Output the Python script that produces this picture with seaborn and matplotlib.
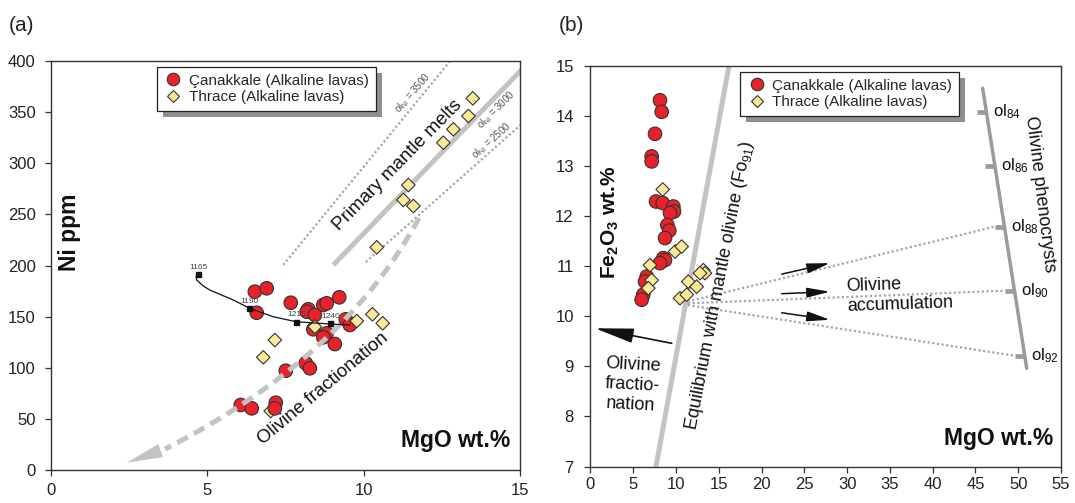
import numpy as np
import pandas as pd
import matplotlib
matplotlib.use("Agg")
import matplotlib.pyplot as plt
import seaborn as sns
from matplotlib.patches import Rectangle, PathPatch
from matplotlib.path import Path
from matplotlib.lines import Line2D
from matplotlib.transforms import IdentityTransform

# ---------------- data ----------------
CAN = "Çanakkale (Alkaline lavas)"
THR = "Thrace (Alkaline lavas)"

# panel (a): MgO vs Ni
a_can_mgo = [6.52, 6.90, 6.58, 7.67, 9.22, 8.23, 8.18, 8.71, 8.82, 8.44, 8.39, 8.82,
             8.71, 9.08, 9.43, 9.56, 7.51, 8.15, 8.28, 6.07, 6.42, 7.19, 7.16]
a_can_ni = [174.4, 177.7, 153.8, 163.6, 168.9, 157.2, 154.8, 161.4, 163.0, 151.6, 137.6, 133.7,
            129.8, 123.2, 147.4, 141.8, 97.1, 104.4, 99.5, 63.6, 60.3, 65.8, 60.3]
a_thr_mgo = [7.03, 8.44, 9.78, 10.28, 10.61, 7.16, 6.79, 13.49, 13.35, 12.87, 12.55,
             11.43, 11.27, 11.59, 10.42]
a_thr_ni = [57.7, 140.1, 145.7, 152.3, 143.5, 127.1, 110.2, 363.5, 346.2, 333.2, 320.1,
            278.7, 264.1, 258.2, 217.8]

# panel (b): MgO vs Fe2O3
b_can_mgo = [8.12, 8.32, 7.54, 7.15, 7.15, 7.66, 8.44, 9.68, 9.76, 9.29, 8.98, 9.21,
             8.71, 8.51, 8.71, 8.12, 6.57, 6.37, 6.17, 5.98]
b_can_fe = [14.31, 14.08, 13.64, 13.19, 13.09, 12.29, 12.26, 12.19, 12.09, 12.06, 11.82, 11.71,
            11.56, 11.16, 11.12, 11.06, 10.79, 10.69, 10.43, 10.33]
b_thr_mgo = [8.44, 9.88, 10.66, 6.95, 7.15, 6.76, 11.43, 12.41, 13.19, 13.38, 12.8, 10.46, 11.25]
b_thr_fe = [12.53, 11.29, 11.39, 11.02, 10.72, 10.56, 10.69, 10.59, 10.92, 10.86, 10.86, 10.36, 10.43]

# guide lines, panel (a)
prim_mgo = [9.03, 15.1]; prim_ni = [200.5, 393.0]          # ol_Ni = 3000
ol3500_mgo = [7.43, 12.9]; ol3500_ni = [200.5, 405.0]
ol2500_mgo = [10.07, 15.1]; ol2500_ni = [203.4, 339.6]
frac_ctrl_mgo = [11.77, 9.39, 3.65]; frac_ctrl_ni = [246.5, 110.1, 20.5]
frac_tip = (2.42, 7.1)
melt_mgo = [4.64, 4.66, 4.87, 5.08, 5.83, 6.36, 7.11, 7.84, 8.92, 9.56]
melt_ni = [189.0, 185.8, 180.0, 176.0, 166.3, 158.1, 149.9, 145.0, 142.8, 141.8]
temp_labels = ["1165", "1190", "1215", "1240"]
temp_mgo = [4.70, 6.34, 7.84, 8.92]
temp_ni = [191.7, 158.1, 145.0, 143.5]

# guide lines, panel (b)
equil_mgo = [7.44, 16.4]; equil_fe = [6.8, 15.2]
pheno_mgo = [45.84, 50.99]; pheno_fe = [14.55, 8.96]
ol_labels = ["84", "86", "88", "90", "92"]
ol_fe = [14.08, 13.0, 11.79, 10.51, 9.21]
accum_origin = (10.3, 10.25)
accum_targets = ["88", "90", "92"]
accum_arrows = [((22.35, 10.84), (27.99, 11.06)),
                ((22.35, 10.45), (27.99, 10.49)),
                ((22.35, 10.07), (27.99, 9.93))]
fracb_start = (9.49, 9.46); fracb_end = (0.53, 9.76)

# ---------------- style ----------------
sns.set_theme(style="ticks")
plt.rcParams["font.family"] = ["Liberation Sans", "DejaVu Sans"]
plt.rcParams["mathtext.fontset"] = "custom"
plt.rcParams["mathtext.rm"] = "Liberation Sans"
plt.rcParams["mathtext.it"] = "Liberation Sans:italic"
plt.rcParams["mathtext.bf"] = "Liberation Sans:bold"

RED = "#e8222a"
YEL = "#fce996"
EDGE = "#333333"
LG = "#c3c3c3"
DOT = "#a6a6a6"
pal = {CAN: RED, THR: YEL}
mk = {CAN: "o", THR: "D"}
sz = {CAN: 95, THR: 48}

fig = plt.figure(figsize=(10.75, 5.03), dpi=100)
axa = fig.add_axes([0.0474, 0.0656, 0.4363, 0.8131])
axb = fig.add_axes([0.5493, 0.0724, 0.4377, 0.7970])

for ax in (axa, axb):
    for s in ax.spines.values():
        s.set_color("#333333")
        s.set_linewidth(1.0)
    ax.tick_params(direction="out", length=4, width=0.9, color="#333333",
                   labelsize=12, labelcolor="#222222")

# ---------------- panel (a) ----------------
dot_style = (0, (1, 1.1))
axa.plot(ol3500_mgo, ol3500_ni, color=DOT, lw=1.6, ls=dot_style, zorder=1)
axa.plot(ol2500_mgo, ol2500_ni, color=DOT, lw=1.6, ls=dot_style, zorder=1)
axa.plot(prim_mgo, prim_ni, color=LG, lw=3.6, solid_capstyle="butt", zorder=1.5)

dfa_can = pd.DataFrame({"MgO": a_can_mgo, "Ni": a_can_ni, "group": CAN})
dfa_thr = pd.DataFrame({"MgO": a_thr_mgo, "Ni": a_thr_ni, "group": THR})
dfa = pd.concat([dfa_thr.iloc[:1], dfa_can, dfa_thr.iloc[1:]], ignore_index=True)
sns.scatterplot(data=dfa, x="MgO", y="Ni", hue="group", style="group", size="group",
                palette=pal, markers=mk, sizes=sz, edgecolor=EDGE, linewidth=0.8,
                legend=False, ax=axa, zorder=3)

# olivine fractionation dashed curve
verts = list(zip(frac_ctrl_mgo, frac_ctrl_ni))
fpath = Path(verts, [Path.MOVETO, Path.CURVE3, Path.CURVE3])
axa.add_patch(PathPatch(fpath, fill=False, edgecolor=LG, lw=3.6, ls=(0, (2.4, 1.4)),
                        capstyle="butt", zorder=4))
axa.annotate("", xy=frac_tip, xytext=verts[-1],
             arrowprops=dict(arrowstyle="-|>,head_length=2.6,head_width=0.5",
                             mutation_scale=10, fc=LG, ec=LG, lw=0,
                             shrinkA=0, shrinkB=0), zorder=4)

# melting curve with temperatures
axa.plot(melt_mgo, melt_ni, color="#111111", lw=0.9, zorder=4)
axa.plot(temp_mgo, temp_ni, ls="none", marker="s", ms=3.6, color="#111111", zorder=4.1)
for t, x, y in zip(temp_labels, temp_mgo, temp_ni):
    axa.annotate(t, (x, y), xytext=(0.5, 2.5), textcoords="offset points",
                 ha="center", va="bottom", fontsize=6, color="#444444", zorder=4.2)

axa.set_xlim(0, 15)
axa.set_ylim(0, 400)
axa.set_xticks([0, 5, 10, 15])
axa.set_yticks(np.arange(0, 401, 50))
axa.tick_params(axis="y", pad=7)
axa.tick_params(axis="x", pad=5)
axa.set_xlabel("")
axa.set_ylabel("")

# text annotations (a)
axa.text(11.07, 298.3, "Primary mantle melts", rotation=45.5, rotation_mode="anchor",
         ha="center", va="center", fontsize=13.5, color="#111111")
axa.text(8.7, 80, "Olivine fractionation", rotation=40, rotation_mode="anchor",
         ha="center", va="center", fontsize=13.5, color="#111111")
axa.text(11.58, 368.6, r"ol$_{\mathregular{Ni}}$ = 3500", rotation=49, rotation_mode="anchor",
         ha="center", va="center", fontsize=7, color="#555555")
axa.text(14.25, 352.0, r"ol$_{\mathregular{Ni}}$ = 3000", rotation=45, rotation_mode="anchor",
         ha="center", va="center", fontsize=7, color="#555555")
axa.text(14.09, 321.8, r"ol$_{\mathregular{Ni}}$ = 2500", rotation=41.5, rotation_mode="anchor",
         ha="center", va="center", fontsize=7, color="#555555")
axa.text(0.58, 232, "Ni ppm", rotation=90, ha="center", va="center",
         fontsize=16.5, fontweight="bold", color="#111111")
axa.text(14.68, 22.5, "MgO wt.%", ha="right", va="baseline",
         fontsize=16.5, fontweight="bold", color="#111111")

# ---------------- panel (b) ----------------
axb.plot(equil_mgo, equil_fe, color=LG, lw=3.6, solid_capstyle="butt", zorder=1.5)
axb.plot(pheno_mgo, pheno_fe, color="#9b9b9b", lw=2.5, zorder=1.5)


def pheno_x(fe):
    return pheno_mgo[0] + (pheno_fe[0] - fe) * (pheno_mgo[1] - pheno_mgo[0]) / (pheno_fe[0] - pheno_fe[1])


for lab, fe in zip(ol_labels, ol_fe):
    xl = pheno_x(fe)
    axb.plot([xl - 1.1, xl], [fe, fe], color="#9b9b9b", lw=3.4, solid_capstyle="butt", zorder=1.5)
    axb.text(xl + 0.75, fe, r"ol$_{\mathregular{%s}}$" % lab, ha="left", va="center",
             fontsize=12, color="#111111")
    if lab in accum_targets:
        axb.plot([accum_origin[0], xl - 1.1], [accum_origin[1], fe], color=DOT, lw=1.6,
                 ls=dot_style, zorder=1)

for (p0, p1) in accum_arrows:
    axb.annotate("", xy=p1, xytext=p0,
                 arrowprops=dict(arrowstyle="-|>,head_length=1.4,head_width=0.3",
                                 mutation_scale=10, color="#111111", lw=1.1,
                                 shrinkA=0, shrinkB=0), zorder=4)
axb.annotate("", xy=fracb_end, xytext=fracb_start,
             arrowprops=dict(arrowstyle="-|>,head_length=2.4,head_width=0.45",
                             mutation_scale=10, color="#111111", lw=1.2,
                             shrinkA=0, shrinkB=0), zorder=4)

dfb_can = pd.DataFrame({"MgO": b_can_mgo, "Fe": b_can_fe, "group": CAN})
dfb_thr = pd.DataFrame({"MgO": b_thr_mgo, "Fe": b_thr_fe, "group": THR})
dfb = pd.concat([dfb_can, dfb_thr], ignore_index=True)
sns.scatterplot(data=dfb, x="MgO", y="Fe", hue="group", style="group", size="group",
                palette=pal, markers=mk, sizes=sz, edgecolor=EDGE, linewidth=0.8,
                legend=False, ax=axb, zorder=3)

axb.set_xlim(0, 55)
axb.set_ylim(7, 15)
axb.set_xticks(np.arange(0, 56, 5))
axb.set_yticks(np.arange(7, 16, 1))
axb.tick_params(axis="y", pad=8)
axb.tick_params(axis="x", pad=3.5)
axb.set_xlabel("")
axb.set_ylabel("")

axb.text(15.14, 10.62, r"Equilibrium with mantle olivine (Fo$_{\mathregular{91}}$)",
         rotation=79, rotation_mode="anchor", ha="center", va="center",
         fontsize=13, color="#111111")
axb.text(52.54, 12.44, "Olivine phenocrysts", rotation=-83, rotation_mode="anchor",
         ha="center", va="center", fontsize=13, color="#111111")
axb.text(29.87, 10.43, "Olivine\naccumulation", rotation=2, ha="left", va="center",
         fontsize=13, color="#111111", multialignment="left")
axb.text(4.85, 8.63, "Olivine\nfractio-\nnation", rotation=-3, ha="center", va="center",
         fontsize=13, color="#111111", multialignment="center")
axb.text(2.28, 11.88, r"Fe$_{\mathregular{2}}$O$_{\mathregular{3}}$ wt.%", rotation=90,
         ha="center", va="center", fontsize=15, fontweight="bold", color="#111111")
axb.text(54.06, 7.43, "MgO wt.%", ha="right", va="baseline",
         fontsize=16.5, fontweight="bold", color="#111111")

# ---------------- legends ----------------
handles = [Line2D([], [], ls="none", marker="o", ms=9, mfc=RED, mec=EDGE, mew=0.8),
           Line2D([], [], ls="none", marker="D", ms=6.5, mfc=YEL, mec=EDGE, mew=0.8)]
legs = []
for ax, anchor in ((axa, (0.2254, 0.986)), (axb, (0.3177, 0.985))):
    leg = ax.legend(handles, [CAN, THR], loc="upper left", bbox_to_anchor=anchor,
                    borderaxespad=0, fontsize=11, frameon=True, fancybox=False,
                    framealpha=1, edgecolor="#222222", handlelength=1.3,
                    handletextpad=0.35, labelspacing=0.15, borderpad=0.45)
    leg.get_frame().set_linewidth(0.9)
    leg.set_zorder(6)
    legs.append((ax, leg))

fig.text(0.0202, 0.950, "(a)", fontsize=15, ha="center", va="center", color="#222222")
fig.text(0.5318, 0.950, "(b)", fontsize=15, ha="center", va="center", color="#222222")

fig.canvas.draw()
renderer = fig.canvas.get_renderer()
for ax, leg in legs:
    bb = leg.get_frame().get_window_extent(renderer)
    sh = Rectangle((bb.x0 + 6, bb.y0 - 6), bb.width, bb.height, transform=IdentityTransform(),
                   facecolor="#8f8f8f", edgecolor="none", zorder=5.9, clip_on=False)
    ax.add_artist(sh)

fig.savefig("out.png", dpi=100)
